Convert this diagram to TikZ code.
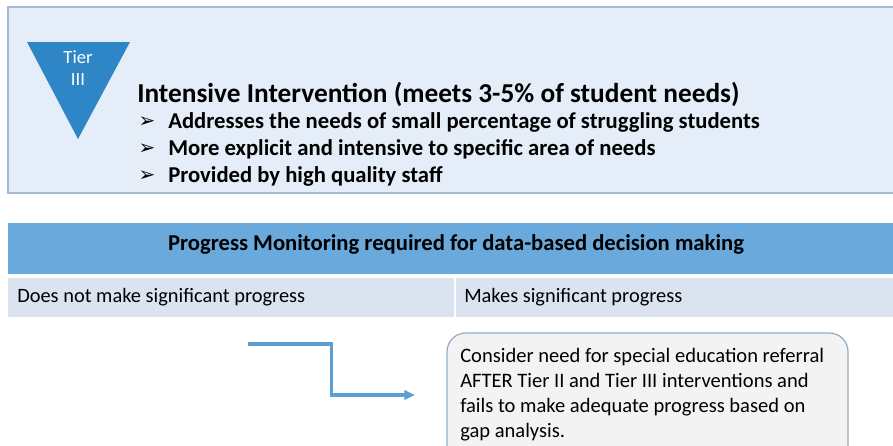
\documentclass[tikz,border=0pt]{standalone}
\usepackage{fontspec}
\setmainfont{Carlito}
\newfontfamily\symfont{DejaVu Sans}
\usetikzlibrary{positioning,calc,arrows.meta}

\definecolor{panelfill}{HTML}{E4EDF8}
\definecolor{panelline}{HTML}{A3BAD3}
\definecolor{tierblue}{HTML}{2F86C6}
\definecolor{headblue}{HTML}{6AA9DB}
\definecolor{rowfill}{HTML}{DAE3EF}
\definecolor{arrowblue}{HTML}{5C9FD6}
\definecolor{notefill}{HTML}{F3F3F3}
\definecolor{noteline}{HTML}{93ACC4}

\tikzset{
  pointtext/.style={anchor=west, inner sep=0pt, font=\fontsize{17}{20}\selectfont\bfseries},
  rowtext/.style={anchor=west, inner sep=0pt, font=\fontsize{15.3}{18}\selectfont},
}

\begin{document}
\begin{tikzpicture}[x=0.75pt,y=-0.75pt]
\useasboundingbox (0,0) rectangle (893,446);
\clip (0,0) rectangle (893,446);

% tier panel
\draw[fill=panelfill, draw=panelline, line width=1.2pt] (8,7) rectangle (905,193);
\coordinate (t1) at ( 27, 42);
\coordinate (t2) at (130, 42);
\coordinate (t3) at ( 78,139);
\fill[tierblue] (t1)--(t2)--(t3)--cycle;
\node[text=white, align=center, font=\fontsize{14}{17}\selectfont] (tier) at (78,68) {Tier\\III};

\node[anchor=west, inner sep=0pt, font=\fontsize{20.5}{24}\selectfont\bfseries] (title) at (137,94)
  {Intensive Intervention (meets 3-5\% of student needs)};
\foreach \y/\txt [count=\i] in {122/Addresses the needs of small percentage of struggling students,
                                149/More explicit and intensive to specific area of needs,
                                176/Provided by high quality staff}{
  \node[anchor=center, inner sep=0pt, font=\symfont\fontsize{15}{16}\selectfont] (m\i) at (147,\y) {➢};
  \node[pointtext] (p\i) at (168,\y) {\txt};
}

% progress monitoring table
\fill[headblue] (8,223) rectangle (893,274);
\node[font=\fontsize{17}{20}\selectfont\bfseries] (head) at (456,244)
  {Progress Monitoring required for data-based decision making};
\fill[rowfill] (8,278) rectangle (893,317);
\draw[white, line width=2pt] (455,278) -- (455,317);
\node[rowtext] (left)  at ( 17,297) {Does not make significant progress};
\node[rowtext] (right) at (464,297) {Makes significant progress};

% arrow to referral note
\coordinate (a0) at (248,344);
\coordinate (a1) at (415,395);
\draw[arrowblue, line width=2.4pt, -{Triangle[length=8pt,width=7pt]}]
  (a0) -| ($(a0)!0.5!(a1)$) |- (a1);

\draw[fill=notefill, draw=noteline, line width=0.9pt, rounded corners=14pt] (447,333) rectangle (848,470);
\node[anchor=north west, align=left, inner sep=0pt, font=\fontsize{15.4}{18.75}\selectfont] (note) at (460,348)
  {Consider need for special education referral\\
   AFTER Tier II and Tier III interventions and\\
   fails to make adequate progress based on\\
   gap analysis.};
\end{tikzpicture}
\end{document}
